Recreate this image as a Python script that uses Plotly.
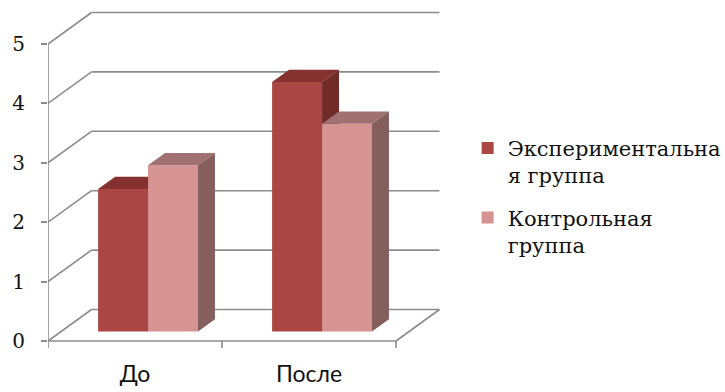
import plotly.graph_objects as go

# ---- data ----
categories = ["До", "После"]
exp_name = "Экспериментальна<br>я группа"
ctrl_name = "Контрольная<br>группа"
exp_values = [2.4, 4.2]
ctrl_values = [2.8, 3.5]
y_ticks = [0, 1, 2, 3, 4, 5]

# ---- geometry of the oblique "3-D" box (in axis units) ----
W, H = 725, 392
PX_X = 174.0          # pixels per category
PX_Y = 59.4           # pixels per value unit
X0_PX, Y0_PX = 48, 341
WALL_DX, WALL_DY = 0.25, 0.53      # depth of the floor / side wall
FRONT = 0.30                        # bars start at this fraction of the depth
BAR_DEPTH = 0.39                    # bar depth as fraction of the floor depth
BAR_W = 0.287                       # width of one bar (category units)

x_range = [0, (W - X0_PX) / PX_X]
y_range = [-(H - Y0_PX) / PX_Y, Y0_PX / PX_Y]

SERIF = "DejaVu Serif"
SANS = "Lato"
GRID = "#8c8c8c"
EXP_FRONT, EXP_TOP, EXP_SIDE = "#aa4643", "#84312f", "#712b29"
CTRL_FRONT, CTRL_TOP, CTRL_SIDE = "#d59391", "#a07170", "#855e5e"

n = len(categories)
shift_x = FRONT * WALL_DX
shift_y = FRONT * WALL_DY
ddx = BAR_DEPTH * WALL_DX
ddy = BAR_DEPTH * WALL_DY

fig = go.Figure()


def add_series(values, name, colors, side, xa, ya):
    front, top, right = colors
    centers = [i + 0.5 + shift_x + side * BAR_W / 2 for i in range(n)]
    fig.add_trace(go.Bar(
        x=centers, y=values, base=shift_y, width=BAR_W, name=name,
        marker=dict(color=front, line=dict(width=0)),
        xaxis=xa, yaxis=ya, hoverinfo="skip", legendgroup=name,
    ))
    for c, v in zip(centers, values):
        x0, x1 = c - BAR_W / 2, c + BAR_W / 2
        b, t = shift_y, shift_y + v
        # top face
        fig.add_trace(go.Scatter(
            x=[x0, x1, x1 + ddx, x0 + ddx, x0],
            y=[t, t, t + ddy, t + ddy, t],
            fill="toself", fillcolor=top, mode="lines", line=dict(width=0),
            showlegend=False, hoverinfo="skip", xaxis=xa, yaxis=ya,
        ))
        # right side face
        fig.add_trace(go.Scatter(
            x=[x1, x1 + ddx, x1 + ddx, x1, x1],
            y=[b, b + ddy, t + ddy, t, b],
            fill="toself", fillcolor=right, mode="lines", line=dict(width=0),
            showlegend=False, hoverinfo="skip", xaxis=xa, yaxis=ya,
        ))


add_series(exp_values, exp_name, (EXP_FRONT, EXP_TOP, EXP_SIDE), -1, "x", "y")
add_series(ctrl_values, ctrl_name, (CTRL_FRONT, CTRL_TOP, CTRL_SIDE), 1, "x2", "y2")

# ---- walls, floor and axis lines ----
shapes = []


def seg(x0, y0, x1, y1):
    shapes.append(dict(type="line", xref="x", yref="y", x0=x0, y0=y0, x1=x1, y1=y1,
                       line=dict(color=GRID, width=1.6), layer="below"))


for v in y_ticks:
    seg(0, v, WALL_DX, v + WALL_DY)
    seg(WALL_DX, v + WALL_DY, n + WALL_DX, v + WALL_DY)
seg(0, 0, n, 0)
seg(n, 0, n + WALL_DX, WALL_DY)
seg(0, 0, 0, y_ticks[-1])
for i in range(n + 1):
    seg(i, 0, i, -7 / PX_Y)

fig.update_layout(
    width=W, height=H,
    margin=dict(l=0, r=0, t=0, b=0, autoexpand=False),
    paper_bgcolor="white", plot_bgcolor="rgba(0,0,0,0)",
    barmode="overlay",
    shapes=shapes,
    font=dict(family=SERIF, size=20, color="#111111"),
    showlegend=True,
    legend=dict(
        x=0.645, y=0.674, xanchor="left", yanchor="top",
        font=dict(family=SERIF, size=21, color="#111111"),
        valign="top", tracegroupgap=12, bgcolor="rgba(0,0,0,0)",
    ),
    xaxis=dict(
        domain=[X0_PX / W, 1], range=x_range, anchor="free",
        position=(H - Y0_PX) / H,
        tickvals=[i + 0.5 for i in range(n)], ticktext=categories,
        ticks="", showgrid=False, zeroline=False, showline=False,
        tickfont=dict(family=SANS, size=23, color="#111111"),
        ticklabelstandoff=17,
    ),
    yaxis=dict(
        domain=[0, 1], range=y_range, anchor="x",
        tickvals=y_ticks, ticks="outside", ticklen=6, tickwidth=1.6, tickcolor=GRID,
        showgrid=False, zeroline=False, showline=False,
        tickfont=dict(family=SERIF, size=20, color="#111111"),
        ticklabelstandoff=12,
    ),
    xaxis2=dict(overlaying="x", range=x_range, visible=False, anchor="y2"),
    yaxis2=dict(overlaying="y", range=y_range, visible=False, anchor="x2"),
)

fig.write_html("out.html")
